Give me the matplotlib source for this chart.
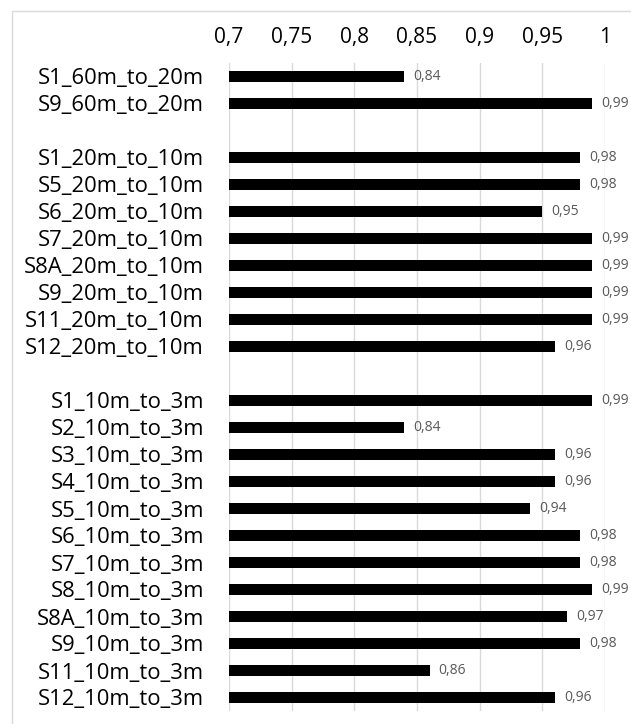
import matplotlib.pyplot as plt
from matplotlib.patches import Rectangle

# row labels, top to bottom; None marks the spacer rows between groups
labels = [
    "S1_60m_to_20m", "S9_60m_to_20m", None,
    "S1_20m_to_10m", "S5_20m_to_10m", "S6_20m_to_10m", "S7_20m_to_10m",
    "S8A_20m_to_10m", "S9_20m_to_10m", "S11_20m_to_10m", "S12_20m_to_10m", None,
    "S1_10m_to_3m", "S2_10m_to_3m", "S3_10m_to_3m", "S4_10m_to_3m",
    "S5_10m_to_3m", "S6_10m_to_3m", "S7_10m_to_3m", "S8_10m_to_3m",
    "S8A_10m_to_3m", "S9_10m_to_3m", "S11_10m_to_3m", "S12_10m_to_3m",
]
values = [
    0.84, 0.99, None,
    0.98, 0.98, 0.95, 0.99, 0.99, 0.99, 0.99, 0.96, None,
    0.99, 0.84, 0.96, 0.96, 0.94, 0.98, 0.98, 0.99, 0.97, 0.98, 0.86, 0.96,
]
ticks = [0.7, 0.75, 0.8, 0.85, 0.9, 0.95, 1.0]

FONT = "Open Sans"

fig = plt.figure(figsize=(6.31, 7.24), dpi=100)
# chart area border (only top and left edges fall inside the image)
fig.patches.append(Rectangle((12 / 631, -0.05), 0.99, (724 - 11) / 724 + 0.05,
                             transform=fig.transFigure, fill=False,
                             edgecolor="#d9d9d9", linewidth=1.0))

ax = fig.add_axes([229 / 631, 13 / 724, 376 / 631, 648 / 724])

rows = [i for i, v in enumerate(values) if v is not None]
vals = [values[i] for i in rows]
ax.barh(rows, [v - 0.7 for v in vals], left=0.7, height=0.38, color="black", zorder=3)

for r, v in zip(rows, vals):
    ax.annotate(f"{v:.2f}".replace(".", ","), (v, r), xytext=(6.5, 0),
                textcoords="offset points", va="center", ha="left",
                fontsize=10, color="#595959", family=FONT)

ax.set_xlim(0.7, 1.0)
ax.set_ylim(len(values) - 0.5, -0.5)
ax.set_xticks(ticks)
ax.set_xticklabels([f"{t:g}".replace(".", ",") for t in ticks], family=FONT,
                   fontsize=15, color="black")
ax.xaxis.tick_top()
ax.tick_params(axis="x", length=0, pad=11)

ax.set_yticks(rows)
ax.set_yticklabels([labels[i] for i in rows], family=FONT, fontsize=15.8,
                   color="black")
ax.tick_params(axis="y", length=0, pad=18)

ax.grid(axis="x", color="#d9d9d9", linewidth=1.0, zorder=0)
for s in ax.spines.values():
    s.set_visible(False)

fig.savefig("out.png", dpi=100)
